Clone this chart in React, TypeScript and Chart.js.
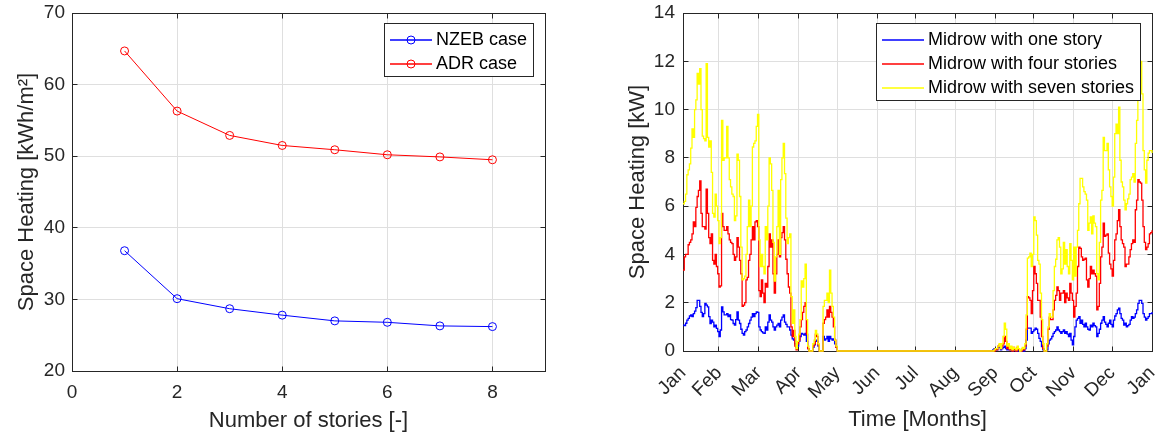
import React, { useEffect, useRef } from 'react';
import { Chart, registerables } from 'chart.js';

Chart.register(...registerables);

const FONT = '"Liberation Sans", Arial, Helvetica, sans-serif';
const TEXT = '#262626';
const GRID = '#dfdfdf';

// ---------- Left panel data ----------
const stories = [1, 2, 3, 4, 5, 6, 7, 8];
const nzebCase = [36.8, 30.1, 28.7, 27.8, 27.0, 26.8, 26.3, 26.2];
const adrCase = [64.7, 56.3, 52.9, 51.5, 50.9, 50.2, 49.9, 49.5];
const leftXTicks = [0, 2, 4, 6, 8];
const leftYTicks = [20, 30, 40, 50, 60, 70];

// ---------- Right panel data ----------
const monthTickDays = [0, 28, 59, 90, 120, 151, 181, 212, 243, 273, 304, 334, 365];
const monthLabels = ['Jan', 'Feb', 'Mar', 'Apr', 'May', 'Jun', 'Jul', 'Aug', 'Sep', 'Oct', 'Nov', 'Dec', 'Jan'];
const rightYTicks = [0, 2, 4, 6, 8, 10, 12, 14];

const SPRING_START_DAY = 0; // daily values from Jan 1
const FALL_START_DAY = 240; // daily values from late Aug

const oneStorySpring = [
  1.07, 1.05, 1.15, 1.28, 1.35, 1.45, 1.5, 1.42, 1.55, 1.65,
  1.8, 2.1, 2.1, 1.85, 1.6, 1.42, 1.55, 1.97, 1.9, 1.83,
  1.42, 1.14, 1.28, 1.2, 1.0, 1.07, 0.94, 0.8, 0.6, 0.87,
  1.83, 1.62, 1.5, 1.5, 1.55, 1.42, 1.5, 1.3, 1.28, 1.14,
  1.07, 1.3, 1.62, 1.28, 1.14, 0.9, 0.73, 0.66, 0.8, 0.87,
  1.0, 1.14, 1.28, 1.4, 1.55, 1.42, 1.55, 1.62, 1.6, 1.0,
  0.87, 0.8, 0.75, 0.73, 1.0, 0.87, 1.2, 1.5, 1.28, 1.2,
  1.0, 0.87, 1.0, 1.07, 1.14, 1.0, 1.28, 1.4, 1.5, 1.2,
  1.1, 1.0, 1.0, 0.87, 0.66, 0.5, 0.45, 0.3, 0.15, 0.2,
  0.4, 0.6, 0.73, 0.7, 0.66, 0.73, 0.4, 0.1, 0, 0,
  0, 0.15, 0.25, 0.45, 0.4, 0.2, 0, 0, 0, 0.6,
  0.45, 0.5, 0.6, 0.4, 0.6, 0.5, 0.45, 0.5, 0.3, 0.15,
  0,
];
const fourStoriesSpring = [
  3.35, 3.9, 4.0, 4.0, 4.4, 4.5, 4.6, 4.85, 5.35, 5.15,
  5.95, 6.4, 6.65, 7.05, 5.7, 5.15, 5.15, 5.05, 6.7, 5.7,
  4.7, 4.45, 4.85, 3.75, 3.6, 4.0, 3.5, 3.2, 2.65, 2.7,
  5.7, 5.15, 5.0, 5.0, 5.15, 4.85, 4.6, 4.5, 4.45, 4.0,
  3.75, 3.9, 4.7, 4.3, 3.75, 3.2, 1.85, 1.9, 2.0, 2.95,
  3.05, 3.75, 4.0, 4.6, 5.15, 4.6, 5.35, 5.4, 5.15, 2.5,
  2.25, 2.95, 2.4, 2.0, 2.8, 2.65, 3.5, 4.85, 4.3, 4.6,
  3.2, 2.4, 3.2, 4.0, 4.6, 3.9, 4.7, 4.9, 5.15, 4.6,
  3.8, 3.2, 2.65, 2.4, 1.0, 0.6, 0.85, 0.2, 0.05, 0.3,
  0.45, 1.0, 1.3, 1.6, 1.85, 2.0, 0.7, 0.1, 0, 0,
  0, 0.2, 0.3, 0.7, 0.6, 0.25, 0, 0, 0, 1.15,
  1.3, 1.4, 1.7, 1.4, 1.85, 1.6, 1.4, 1.0, 0.45, 0.15,
  0,
];
const sevenStoriesSpring = [
  6.1, 6.2, 6.5, 7.3, 7.5, 7.75, 8.4, 9.2, 8.85, 10.0,
  10.4, 11.5, 11.05, 11.7, 10.0, 8.9, 8.8, 8.7, 11.9, 8.85,
  8.45, 8.7, 7.4, 5.7, 5.55, 6.5, 6.0, 5.4, 4.45, 4.7,
  9.55, 7.9, 8.0, 8.0, 9.3, 8.0, 7.1, 6.8, 6.5, 6.4,
  5.4, 5.6, 8.15, 7.9, 6.4, 4.3, 2.95, 3.0, 3.1, 4.0,
  5.15, 6.25, 5.15, 6.0, 8.45, 8.6, 8.7, 9.3, 9.8, 4.6,
  3.5, 4.0, 3.5, 3.2, 5.15, 4.6, 6.0, 8.0, 7.75, 6.65,
  4.5, 2.9, 3.9, 5.15, 6.65, 4.0, 7.1, 8.0, 8.6, 7.35,
  5.5, 4.45, 4.7, 4.85, 2.25, 1.15, 1.7, 0.6, 0.1, 0.4,
  0.7, 1.3, 2.9, 2.65, 3.0, 3.6, 1.3, 0.2, 0, 0,
  0, 0.3, 0.45, 0.85, 0.7, 0.3, 0, 0, 0, 1.85,
  2.1, 2.1, 2.4, 2.0, 3.35, 2.4, 1.85, 1.4, 0.45, 0.2,
  0,
];

const oneStoryFall = [
  0, 0.05, 0.1, 0.1, 0.05, 0.15, 0.2, 0.05, 0.1, 0.15,
  0.2, 0.1, 0.05, 0.1, 0.05, 0.1, 0, 0.05, 0.05, 0,
  0.05, 0, 0, 0, 0.05, 0, 0.1, 0.45, 0.95, 0.95,
  0.95, 0.73, 0.8, 0.87, 0.95, 0.9, 0.73, 0.52, 0.4, 0.18,
  0.05, 0, 0, 0.05, 0.3, 0.45, 0.5, 0.6, 0.73, 0.8,
  0.87, 1.0, 0.87, 0.8, 0.73, 0.8, 0.87, 0.73, 0.8, 0.7,
  0.6, 0.73, 0.45, 0.25, 0.6, 1.0, 1.28, 1.35, 1.42, 1.15,
  1.28, 1.1, 1.0, 1.15, 1.0, 0.9, 0.87, 1.07, 1.0, 1.15,
  1.05, 1.0, 0.6, 0.73, 0.9, 1.15, 1.28, 1.42, 1.2, 1.1,
  1.0, 1.15, 1.28, 1.1, 1.0, 1.28, 1.45, 1.55, 1.7, 1.77,
  1.55, 1.35, 1.28, 1.07, 1.15, 1.0, 1.05, 1.1, 1.28, 1.42,
  1.35, 1.4, 1.55, 1.7, 1.97, 2.1, 2.1, 1.97, 1.55, 1.4,
  1.28, 1.35, 1.42, 1.55, 1.55, 1.62,
];
const fourStoriesFall = [
  0, 0, 0, 0.1, 0.05, 0.2, 0.25, 0.1, 0.2, 0.3,
  0.6, 0.4, 0.1, 0.25, 0.05, 0.15, 0, 0.15, 0.05, 0,
  0.15, 0.05, 0, 0, 0.1, 0.05, 0.2, 0.9, 2.25, 2.2,
  2.1, 1.55, 2.5, 3.5, 3.2, 2.8, 2.1, 2.1, 1.4, 0.6,
  0.1, 0, 0, 0.2, 0.9, 1.4, 1.3, 1.3, 1.7, 2.1,
  2.3, 2.65, 2.5, 2.1, 2.4, 2.4, 2.5, 2.0, 2.4, 2.2,
  2.1, 2.8, 2.4, 2.1, 1.4, 1.85, 2.4, 3.5, 4.3, 4.25,
  3.9, 3.75, 3.8, 3.85, 2.95, 2.65, 3.0, 3.5, 3.2, 3.35,
  3.2, 3.1, 1.7, 1.85, 2.8, 3.9, 4.3, 5.3, 4.75, 4.8,
  4.85, 4.05, 3.6, 3.4, 3.1, 3.75, 4.6, 4.85, 5.4, 5.85,
  5.15, 4.6, 4.45, 4.3, 3.5, 3.6, 3.6, 3.9, 4.2, 4.45,
  4.6, 4.5, 5.85, 6.25, 7.1, 7.0, 6.95, 6.25, 5.15, 4.5,
  4.2, 4.3, 4.45, 4.85, 4.9, 5.0,
];
const sevenStoriesFall = [
  0, 0, 0.05, 0.1, 0.1, 0.2, 0.3, 0.1, 0.3, 0.6,
  1.15, 0.9, 0.2, 0.3, 0.1, 0.2, 0.05, 0.15, 0.1, 0.05,
  0.2, 0.1, 0, 0.05, 0.15, 0.1, 0.3, 1.5, 3.85, 3.9,
  4.05, 3.5, 4.0, 5.55, 5.4, 4.8, 3.75, 3.6, 2.4, 1.3,
  0.3, 0, 0, 0.3, 1.0, 1.55, 1.4, 1.4, 2.5, 3.5,
  3.8, 4.6, 4.7, 4.3, 3.2, 3.4, 4.5, 3.6, 4.2, 3.5,
  3.2, 4.45, 3.75, 2.95, 4.3, 3.1, 4.3, 5.0, 6.1, 7.15,
  7.15, 6.8, 6.6, 6.5, 6.25, 5.0, 5.3, 5.55, 4.85, 5.6,
  5.3, 5.15, 3.2, 2.95, 4.5, 6.25, 6.65, 8.85, 8.3, 8.3,
  8.6, 7.5, 6.8, 6.4, 6.0, 7.2, 9.0, 9.4, 9.0, 10.1,
  7.9, 7.0, 6.8, 6.25, 5.85, 6.1, 6.3, 6.5, 7.1, 7.2,
  7.35, 7.0, 8.6, 9.55, 11.2, 11.9, 12.0, 10.65, 8.3, 7.5,
  6.95, 7.9, 8.2, 8.3, 8.3, 8.2,
];

// ---------- helpers ----------
function toSeries(spring: number[], fall: number[]) {
  return [
    ...spring.map((v, i) => ({ x: SPRING_START_DAY + i, y: v })),
    ...fall.map((v, i) => ({ x: FALL_START_DAY + i, y: v })),
  ];
}

const align = (p: number) => Math.round(p - 0.5) + 0.5;

const boxPlugin = {
  id: 'matlabBox',
  beforeDatasetsDraw(chart: any) {
    const { ctx, chartArea: a } = chart;
    const xs = chart.scales.x;
    const ys = chart.scales.y;
    const L = align(a.left), R = align(a.right), T = align(a.top), B = align(a.bottom);
    ctx.save();
    ctx.strokeStyle = TEXT;
    ctx.lineWidth = 1;
    ctx.beginPath();
    xs.ticks.forEach((t: any) => {
      const p = align(xs.getPixelForValue(t.value));
      ctx.moveTo(p, B); ctx.lineTo(p, B - 5);
      ctx.moveTo(p, T); ctx.lineTo(p, T + 5);
    });
    ys.ticks.forEach((t: any) => {
      const p = align(ys.getPixelForValue(t.value));
      ctx.moveTo(L, p); ctx.lineTo(L + 5, p);
      ctx.moveTo(R, p); ctx.lineTo(R - 5, p);
    });
    ctx.stroke();
    ctx.strokeRect(L, T, R - L, B - T);
    ctx.restore();
  },
};

type LegendItem = { text: string; color: string; marker: boolean };
function makeLegendPlugin(items: LegendItem[]) {
  return {
    id: 'matlabLegend',
    afterDraw(chart: any) {
      const { ctx, chartArea: a } = chart;
      ctx.save();
      ctx.font = `18px ${FONT}`;
      const textW = Math.max(...items.map((it) => ctx.measureText(it.text).width));
      const w = Math.round(52 + textW + 6);
      const h = 24 * items.length + 5;
      const x = Math.round(a.right - 12 - w);
      const y = Math.round(a.top + 10);
      ctx.fillStyle = '#ffffff';
      ctx.fillRect(x, y, w, h);
      ctx.strokeStyle = TEXT;
      ctx.lineWidth = 1;
      ctx.strokeRect(x + 0.5, y + 0.5, w, h);
      items.forEach((it, i) => {
        const cy = y + 16 + 24 * i + 1;
        ctx.strokeStyle = it.color;
        ctx.lineWidth = 1.4;
        ctx.beginPath();
        ctx.moveTo(x + 6, cy);
        ctx.lineTo(x + 48, cy);
        ctx.stroke();
        if (it.marker) {
          ctx.lineWidth = 1;
          ctx.beginPath();
          ctx.arc(x + 27, cy, 4, 0, Math.PI * 2);
          ctx.stroke();
        }
        ctx.fillStyle = '#000000';
        ctx.textAlign = 'left';
        ctx.textBaseline = 'middle';
        ctx.fillText(it.text, x + 52, cy + 0.5);
      });
      ctx.restore();
    },
  };
}

const tickFont = { family: FONT, size: 19 };
const titleFont = { family: FONT, size: 22 };

function leftConfig(): any {
  return {
    type: 'line',
    data: {
      datasets: [
        {
          label: 'NZEB case',
          data: stories.map((s, i) => ({ x: s, y: nzebCase[i] })),
          borderColor: '#0000ff',
          borderWidth: 1,
          pointRadius: 4,
          pointStyle: 'circle',
          pointBorderColor: '#0000ff',
          pointBackgroundColor: 'rgba(0,0,0,0)',
          pointBorderWidth: 1,
          fill: false,
          tension: 0,
        },
        {
          label: 'ADR case',
          data: stories.map((s, i) => ({ x: s, y: adrCase[i] })),
          borderColor: '#ff0000',
          borderWidth: 1,
          pointRadius: 4,
          pointStyle: 'circle',
          pointBorderColor: '#ff0000',
          pointBackgroundColor: 'rgba(0,0,0,0)',
          pointBorderWidth: 1,
          fill: false,
          tension: 0,
        },
      ],
    },
    options: {
      responsive: false,
      animation: false,
      events: [],
      layout: { padding: { top: 13, right: 15, left: 0, bottom: 0 } },
      plugins: { legend: { display: false }, tooltip: { enabled: false } },
      scales: {
        x: {
          type: 'linear',
          min: 0,
          max: 9,
          afterBuildTicks: (s: any) => { s.ticks = leftXTicks.map((v) => ({ value: v })); },
          afterFit: (s: any) => { s.height = 63; s.paddingLeft = 0; s.paddingRight = 0; },
          grid: { color: GRID, drawTicks: false },
          border: { display: false },
          ticks: { font: tickFont, color: TEXT, padding: 10, maxRotation: 0, autoSkip: false },
          title: { display: true, text: 'Number of stories [-]', font: titleFont, color: TEXT, padding: { top: 0, bottom: 0 } },
        },
        y: {
          type: 'linear',
          min: 20,
          max: 70,
          afterBuildTicks: (s: any) => { s.ticks = leftYTicks.map((v) => ({ value: v })); },
          afterFit: (s: any) => { s.width = 72; s.paddingTop = 0; s.paddingBottom = 0; },
          grid: { color: GRID, drawTicks: false },
          border: { display: false },
          ticks: { font: tickFont, color: TEXT, padding: 7, autoSkip: false },
          title: { display: true, text: 'Space Heating [kWh/m²]', font: titleFont, color: TEXT, padding: { top: 14, bottom: 0 } },
        },
      },
    },
    plugins: [
      boxPlugin,
      makeLegendPlugin([
        { text: 'NZEB case', color: '#0000ff', marker: true },
        { text: 'ADR case', color: '#ff0000', marker: true },
      ]),
    ],
  };
}

function rightConfig(): any {
  const common = { borderWidth: 1.3, pointRadius: 0, fill: false, stepped: true, tension: 0, clip: 2 };
  return {
    type: 'line',
    data: {
      datasets: [
        { label: 'Midrow with one story', data: toSeries(oneStorySpring, oneStoryFall), borderColor: '#0000ff', order: 3, ...common },
        { label: 'Midrow with four stories', data: toSeries(fourStoriesSpring, fourStoriesFall), borderColor: '#ff0000', order: 2, ...common },
        { label: 'Midrow with seven stories', data: toSeries(sevenStoriesSpring, sevenStoriesFall), borderColor: '#ffff00', order: 1, ...common },
      ],
    },
    options: {
      responsive: false,
      animation: false,
      events: [],
      layout: { padding: { top: 13, right: 16, left: 0, bottom: 0 } },
      plugins: { legend: { display: false }, tooltip: { enabled: false } },
      scales: {
        x: {
          type: 'linear',
          min: 0,
          max: 365,
          afterBuildTicks: (s: any) => { s.ticks = monthTickDays.map((v) => ({ value: v })); },
          afterFit: (s: any) => { s.height = 83; s.paddingLeft = 0; s.paddingRight = 0; },
          grid: { color: GRID, drawTicks: false },
          border: { display: false },
          ticks: {
            font: tickFont,
            color: TEXT,
            padding: 11,
            minRotation: 45,
            maxRotation: 45,
            autoSkip: false,
            callback: (_v: any, i: number) => monthLabels[i],
          },
          title: { display: true, text: 'Time [Months]', font: titleFont, color: TEXT, padding: { top: 0, bottom: 1 } },
        },
        y: {
          type: 'linear',
          min: 0,
          max: 14,
          afterBuildTicks: (s: any) => { s.ticks = rightYTicks.map((v) => ({ value: v })); },
          afterFit: (s: any) => { s.width = 83; s.paddingTop = 0; s.paddingBottom = 0; },
          grid: { color: GRID, drawTicks: false },
          border: { display: false },
          ticks: { font: tickFont, color: TEXT, padding: 8, autoSkip: false },
          title: { display: true, text: 'Space Heating [kW]', font: titleFont, color: TEXT, padding: { top: 25, bottom: 0 } },
        },
      },
    },
    plugins: [
      boxPlugin,
      makeLegendPlugin([
        { text: 'Midrow with one story', color: '#0000ff', marker: false },
        { text: 'Midrow with four stories', color: '#ff0000', marker: false },
        { text: 'Midrow with seven stories', color: '#ffff00', marker: false },
      ]),
    ],
  };
}

function ChartPanel({ left, width, height, makeConfig }: { left: number; width: number; height: number; makeConfig: () => any }) {
  const ref = useRef<HTMLCanvasElement>(null);
  useEffect(() => {
    if (!ref.current) return;
    const chart = new Chart(ref.current, makeConfig());
    return () => chart.destroy();
  }, [makeConfig]);
  return (
    <div style={{ position: 'absolute', left, top: 0, width, height }}>
      <canvas ref={ref} width={width} height={height} style={{ width, height, display: 'block' }} />
    </div>
  );
}

export default function App() {
  return (
    <div style={{ position: 'absolute', left: 0, top: 0, width: 1168, height: 434, background: '#ffffff', overflow: 'hidden' }}>
      <ChartPanel left={0} width={560} height={434} makeConfig={leftConfig} />
      <ChartPanel left={600} width={568} height={434} makeConfig={rightConfig} />
    </div>
  );
}
